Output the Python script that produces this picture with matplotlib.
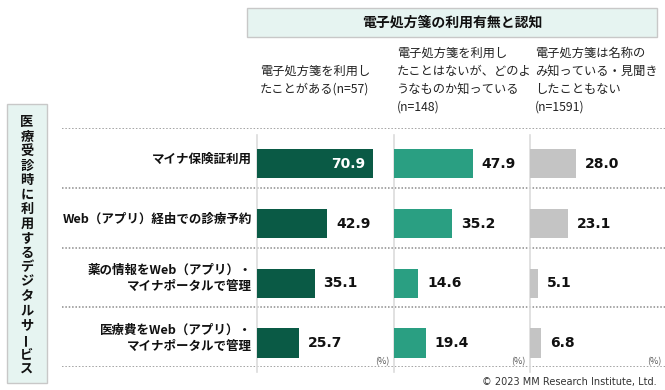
import matplotlib
matplotlib.use('Agg')
import matplotlib.pyplot as plt
from matplotlib.patches import Rectangle

plt.rcParams['font.family'] = ['Noto Sans CJK JP', 'DejaVu Sans']

# data
categories = ['マイナ保険証利用',
              'Web（アプリ）経由での診療予約',
              '薬の情報をWeb（アプリ）・\nマイナポータルで管理',
              '医療費をWeb（アプリ）・\nマイナポータルで管理']
groups = ['電子処方箋を利用し\nたことがある(n=57)',
          '電子処方箋を利用し\nたことはないが、どのよ\nうなものか知っている\n(n=148)',
          '電子処方箋は名称の\nみ知っている・見聞き\nしたこともない\n(n=1591)']
used = [70.9, 42.9, 35.1, 25.7]
known = [47.9, 35.2, 14.6, 19.4]
name_only = [28.0, 23.1, 5.1, 6.8]
series = [used, known, name_only]
colors = ['#0a5a45', '#2a9f82', '#c4c4c4']
title = '電子処方箋の利用有無と認知'
side_label = '医療受診時に利用するデジタルサービス'

W, H = 665, 390
fig = plt.figure(figsize=(W / 100, H / 100), dpi=100)


def fx(px):
    return px / W


def fy(py):
    return 1 - py / H


top, bottom = 128, 367
nrows = len(categories)

# background axes for the dotted row separators
bg = fig.add_axes([fx(62), fy(bottom), fx(665 - 62), fy(top) - fy(bottom)])
bg.set_xlim(0, 1)
bg.set_ylim(nrows, 0)
bg.axis('off')
for i in range(nrows + 1):
    bg.axhline(i, color='#8c8c8c', lw=1.1, ls=(0, (1, 1.2)))

# category labels
for i, cat in enumerate(categories):
    fig.text(fx(252), fy(top + (i + 0.52) * (bottom - top) / nrows), cat,
             ha='right', va='center', fontsize=9, fontweight='bold',
             linespacing=1.35, color='#111111')

# panels
lefts = [257, 394, 530]
pw = 136
xmax = pw / 1.64
ypos = [i + 0.6 for i in range(nrows)]
for k, (vals, col) in enumerate(zip(series, colors)):
    ax = fig.add_axes([fx(lefts[k]), fy(bottom), fx(pw), fy(top) - fy(bottom)])
    ax.set_xlim(0, xmax)
    ax.set_ylim(nrows, 0)
    ax.axis('off')
    ax.plot([0, 0], [0.12, nrows + 0.08], color='#dcdcdc', lw=1.2,
            clip_on=False, zorder=1)
    ax.barh(ypos, vals, height=0.49, color=col, zorder=2)
    for y, v in zip(ypos, vals):
        if v > 60:
            ax.annotate(f'{v:.1f}', (v, y), xytext=(-8, 0),
                        textcoords='offset pixels', ha='right', va='center',
                        fontsize=10, fontweight='bold', color='white',
                        family='DejaVu Sans')
        else:
            ax.annotate(f'{v:.1f}', (v, y), xytext=(9, 0),
                        textcoords='offset pixels', ha='left', va='center',
                        fontsize=10, fontweight='bold', color='#111111',
                        family='DejaVu Sans')
    fig.text(fx(lefts[k] + pw - 4), fy(362), '(%)', ha='right', va='center',
             fontsize=6.5, color='#555555')

# column headers
hx = [260, 397, 535]
for x, g in zip(hx, groups):
    fig.text(fx(x), fy(80), g, ha='left', va='center', fontsize=8.8,
             linespacing=1.5, color='#222222')

# title box
fig.patches.append(Rectangle((fx(247), fy(37)), fx(657 - 247), fy(8) - fy(37),
                             transform=fig.transFigure, facecolor='#e6f4f1',
                             edgecolor='#c8c8c8', lw=1))
fig.text(fx(452), fy(23), title, ha='center', va='center', fontsize=10,
         fontweight='bold', color='#111111')

# side label box
fig.patches.append(Rectangle((fx(7), fy(383)), fx(40), fy(104) - fy(383),
                             transform=fig.transFigure, facecolor='#e6f4f1',
                             edgecolor='#c8c8c8', lw=1))
for j, ch in enumerate(side_label):
    fig.text(fx(27), fy(122 + j * 14.5), ch, ha='center', va='center',
             fontsize=9.5, fontweight='bold', color='#111111',
             rotation=90 if ch == 'ー' else 0)

fig.text(fx(657), fy(382), '© 2023 MM Research Institute, Ltd.', ha='right',
         va='center', fontsize=7, color='#333333', family='DejaVu Sans')

fig.savefig('out.png', dpi=100)
